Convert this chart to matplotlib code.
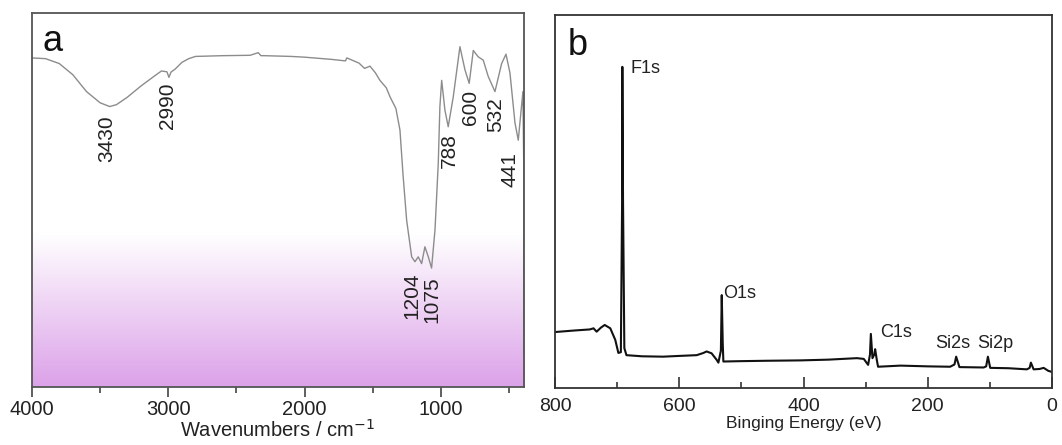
import numpy as np
import matplotlib.pyplot as plt
from matplotlib.ticker import MultipleLocator
from matplotlib.colors import LinearSegmentedColormap

plt.rcParams['font.family'] = ['Liberation Sans', 'DejaVu Sans']

# FTIR spectrum (panel a), wavenumber vs transmittance (arb.)
ir_wn = [4000, 3900, 3800, 3700, 3600, 3500, 3430, 3380, 3300, 3200, 3100, 3050,
         3010, 2995, 2980, 2950, 2900, 2850, 2800, 2600, 2400, 2340, 2320, 2300,
         2100, 2000, 1800, 1700, 1690, 1600, 1560, 1520, 1480, 1447, 1400, 1373,
         1330, 1300, 1278, 1251, 1214, 1190, 1166, 1141, 1117, 1092, 1068, 1043,
         1019, 1007, 994, 970, 946, 909, 860, 823, 792, 762, 726, 689, 652,
         603, 554, 522, 493, 456, 432, 398, 392, 390]
ir_t = [88.0, 87.8, 86.5, 83.5, 79.0, 76.0, 75.0, 75.5, 77.5, 80.5, 83.2, 84.5,
        84.3, 82.8, 84.2, 85.0, 86.8, 87.8, 88.4, 88.6, 88.7, 89.4, 88.6, 88.6,
        88.4, 88.2, 87.6, 87.2, 88.0, 86.6, 85.2, 85.8, 84.0, 82.0, 80.0, 77.6,
        74.5, 68.7, 57.0, 44.6, 34.8, 33.5, 34.8, 33.0, 37.5, 34.8, 31.8, 42.0,
        59.8, 75.0, 82.0, 74.0, 69.6, 77.6, 91.0, 84.8, 81.2, 90.0, 88.3, 87.4, 83.0,
        79.0, 86.5, 89.0, 84.0, 70.6, 66.0, 79.0, 60.0, 8.0]
ir_peaks = ['3430', '2990', '1204', '1075', '788', '600', '532', '441']
ir_peak_x = [3450, 3002, 1212, 1065, 941, 779, 596, 493]
ir_peak_y = [72.7, 81.3, 30.7, 29.7, 67.9, 79.4, 77.5, 62.8]

# XPS survey (panel b), binding energy vs intensity (arb.)
xps_e = [800, 770, 744, 738, 733, 726, 720, 711, 703, 698, 694, 692, 691.6,
         690.5, 688.4, 685, 660, 626, 600, 572, 561, 556, 548, 540, 537, 533,
         531.6, 530, 529, 500, 460, 405, 360, 314, 303, 296, 293, 291.6, 289,
         286, 284.7, 282, 280, 244, 200, 164, 157, 154.3, 149, 110, 106, 103.2,
         99.5, 70, 40.5, 36, 34, 29.6, 20, 13.5, 6, 0]
xps_i = [15.0, 15.4, 15.7, 16.0, 15.1, 16.2, 16.9, 16.0, 12.9, 9.4, 9.6, 50.0, 86.1,
         50.0, 10.7, 8.8, 8.5, 8.4, 8.6, 8.8, 9.4, 9.8, 9.3, 7.6, 6.8, 10.0,
         24.9, 12.0, 7.1, 7.2, 7.3, 7.4, 7.6, 8.0, 7.8, 6.2, 9.0, 14.5, 8.0,
         9.0, 10.4, 7.5, 5.7, 6.0, 5.8, 5.7, 6.3, 8.4, 5.6, 5.5, 5.8, 8.4,
         5.4, 5.3, 5.0, 5.4, 6.8, 5.0, 5.1, 5.4, 4.6, 4.3]
xps_peaks = ['F1s', 'O1s', 'C1s', 'Si2s', 'Si2p']
xps_peak_x = [679, 529, 276, 188, 121]
xps_peak_y = [85.6, 25.4, 15.0, 11.8, 11.8]

fig = plt.figure(figsize=(10.62, 4.45), dpi=100)
ax1 = fig.add_axes([0.0301, 0.1303, 0.4633, 0.8404])
ax2 = fig.add_axes([0.5226, 0.1281, 0.468, 0.8382])

# purple gradient background in panel a (white -> violet towards the bottom)
grad = np.linspace(0, 1, 300).reshape(-1, 1)
grad = np.clip((grad - 0.59) / 0.41, 0, 1)
cmap = LinearSegmentedColormap.from_list('wp', ['#ffffff', '#dca2e9'])
ax1.imshow(grad, aspect='auto', cmap=cmap, origin='upper',
           extent=[4000, 390, 0, 100], zorder=0, interpolation='bicubic')

ax1.plot(ir_wn, ir_t, color='#8c8c8c', lw=1.0, zorder=2)
ax1.set_xlim(4000, 390)
ax1.set_ylim(0, 100)
ax1.xaxis.set_major_locator(MultipleLocator(1000))
ax1.xaxis.set_minor_locator(MultipleLocator(500))
ax1.tick_params(axis='x', which='major', direction='out', length=7, width=1.2,
                labelsize=14.5, pad=2, color='#444444', labelcolor='#222222')
ax1.tick_params(axis='x', which='minor', direction='out', length=4, width=1.2,
                color='#444444')
ax1.set_yticks([])
ax1.set_xlabel('Wavenumbers / cm$^{-1}$', fontsize=14.5, labelpad=0, color='#222222')
for s in ax1.spines.values():
    s.set_color('#555555')
    s.set_linewidth(1.3)
for lab, x, y in zip(ir_peaks, ir_peak_x, ir_peak_y):
    ax1.text(x, y, lab, rotation=90, ha='center', va='top', fontsize=15,
             color='#222222')
ax1.text(0.022, 0.97, 'a', transform=ax1.transAxes, fontsize=26, va='top',
         ha='left', color='#111111')

ax2.plot(xps_e, xps_i, color='#111111', lw=1.5)
ax2.set_xlim(800, 0)
ax2.set_ylim(0, 100)
ax2.xaxis.set_major_locator(MultipleLocator(200))
ax2.xaxis.set_minor_locator(MultipleLocator(100))
ax2.tick_params(axis='x', which='major', direction='in', length=8, width=1.2,
                labelsize=14, pad=7, color='#333333', labelcolor='#222222')
ax2.tick_params(axis='x', which='minor', direction='in', length=4, width=1.2,
                color='#333333')
ax2.set_yticks([])
ax2.set_xlabel('Binging Energy (eV)', fontsize=12.5, labelpad=1, color='#222222')
for s in ax2.spines.values():
    s.set_color('#333333')
    s.set_linewidth(1.3)
for lab, x, y in zip(xps_peaks, xps_peak_x, xps_peak_y):
    ax2.text(x, y, lab, ha='left', va='center', fontsize=13, color='#222222')
ax2.text(0.025, 0.965, 'b', transform=ax2.transAxes, fontsize=26, va='top',
         ha='left', color='#111111')

fig.savefig('out.png', dpi=100)
